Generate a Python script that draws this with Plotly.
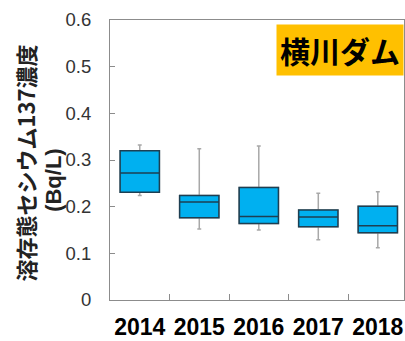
import plotly.graph_objects as go

# Yearly dissolved Cs-137 concentration summary (Bq/L)
years = ["2014", "2015", "2016", "2017", "2018"]
q1 = [0.231, 0.176, 0.164, 0.157, 0.144]
median = [0.272, 0.210, 0.179, 0.178, 0.159]
q3 = [0.320, 0.224, 0.241, 0.193, 0.201]
low_whisker = [0.224, 0.152, 0.150, 0.129, 0.112]
high_whisker = [0.332, 0.324, 0.330, 0.229, 0.232]

y_ticks = [0, 0.1, 0.2, 0.3, 0.4, 0.5, 0.6]

BOX_W = 0.66
JP_FONT = "Noto Sans CJK JP, Arial, sans-serif"
LATIN_FONT = "Arial, Liberation Sans, sans-serif"

fig = go.Figure()

# Whiskers (gray), drawn beneath the box bodies
fig.add_trace(go.Box(
    x=years, q1=q1, median=median, q3=q3,
    lowerfence=low_whisker, upperfence=high_whisker,
    width=BOX_W, whiskerwidth=0.1,
    line=dict(color="#a8a8a8", width=1.5),
    fillcolor="rgba(0,0,0,0)",
    showlegend=False, hoverinfo="skip",
))

# Box bodies with median line
fig.add_trace(go.Box(
    x=years, q1=q1, median=median, q3=q3,
    lowerfence=q1, upperfence=q3,
    width=BOX_W, whiskerwidth=0,
    line=dict(color="#1d3f52", width=1.5),
    fillcolor="#00b0f0",
    showlegend=False, hoverinfo="skip",
))

fig.update_layout(
    width=405, height=341,
    margin=dict(l=110, r=1, t=20, b=41),
    paper_bgcolor="white", plot_bgcolor="white",
    boxmode="overlay",
    xaxis=dict(
        type="category",
        range=[-0.5, 4.44],
        showline=True, linecolor="#8c8c8c", linewidth=1, mirror=True,
        ticks="inside", tickson="boundaries", ticklen=6, tickcolor="#8c8c8c",
        showgrid=False, zeroline=False,
        tickangle=0,
        tickfont=dict(family=LATIN_FONT, size=23, color="black", weight="bold"),
        ticklabelstandoff=6,
    ),
    yaxis=dict(
        range=[0, 0.6],
        tickvals=y_ticks,
        ticktext=[("0" if v == 0 else f"{v:.1f}") for v in y_ticks],
        showline=True, linecolor="#8c8c8c", linewidth=1, mirror=True,
        ticks="inside", ticklen=5, tickcolor="#8c8c8c",
        showgrid=False, zeroline=False,
        tickfont=dict(family=LATIN_FONT, size=18.5, color="#333333"),
        ticklabelstandoff=14,
    ),
    annotations=[
        dict(
            text="<b>横川ダム</b>",
            xref="paper", yref="paper", x=1.0, y=0.985,
            xanchor="right", yanchor="top", showarrow=False,
            bgcolor="#ffc000", borderpad=3,
            font=dict(family=JP_FONT, size=30, color="black"),
        ),
        dict(
            text="<b>溶存態セシウム137濃度</b>",
            xref="paper", yref="paper", x=-0.29, y=0.49,
            xanchor="center", yanchor="middle", showarrow=False,
            textangle=-90,
            font=dict(family=JP_FONT, size=22, color="#222222"),
        ),
        dict(
            text="<b>(Bq/L)</b>",
            xref="paper", yref="paper", x=-0.193, y=0.43,
            xanchor="center", yanchor="middle", showarrow=False,
            textangle=-90,
            font=dict(family=LATIN_FONT, size=22, color="#222222"),
        ),
    ],
)

fig.write_html("out.html")
